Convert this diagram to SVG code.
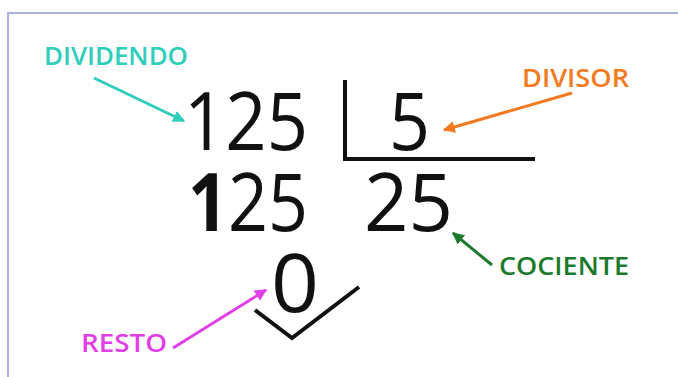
<svg xmlns="http://www.w3.org/2000/svg" width="678" height="377" viewBox="0 0 678 377">
<style>
.num{font-family:"Open Sans","Liberation Sans",sans-serif;font-size:80px;fill:#111;}
.lbl{font-family:"Open Sans","Liberation Sans",sans-serif;font-weight:600;font-size:25px;}
.bar{stroke:#111;stroke-width:4;fill:none;}
.arr{stroke-width:3;fill:none;}
</style>
<defs>
<marker id="mTeal" viewBox="0 0 10 10" refX="9" refY="5" markerWidth="4" markerHeight="4" orient="auto" markerUnits="strokeWidth"><path d="M0,0L10,5L0,10z" fill="#2fcdbb"/></marker>
<marker id="mOrange" viewBox="0 0 10 10" refX="9" refY="5" markerWidth="4" markerHeight="4" orient="auto" markerUnits="strokeWidth"><path d="M0,0L10,5L0,10z" fill="#f47a22"/></marker>
<marker id="mGreen" viewBox="0 0 10 10" refX="9" refY="5" markerWidth="4" markerHeight="4" orient="auto" markerUnits="strokeWidth"><path d="M0,0L10,5L0,10z" fill="#1d7a2c"/></marker>
<marker id="mMagenta" viewBox="0 0 10 10" refX="9" refY="5" markerWidth="4" markerHeight="4" orient="auto" markerUnits="strokeWidth"><path d="M0,0L10,5L0,10z" fill="#e040e6"/></marker>
</defs>
<rect x="0" y="0" width="678" height="377" fill="#fff"/>
<rect x="8" y="13" width="690" height="400" fill="none" stroke="#aab0e4" stroke-width="2"/>

<g id="division-bracket">
<path class="bar" d="M345,80V159H535"/>
</g>
<g id="dividend">
<text class="num" x="184" y="150" textLength="124" lengthAdjust="spacingAndGlyphs">125</text>
</g>
<g id="divisor">
<text class="num" x="389" y="150" textLength="41" lengthAdjust="spacingAndGlyphs">5</text>
</g>
<g id="partial-dividend">
<text class="num" x="188" y="231" textLength="120" lengthAdjust="spacingAndGlyphs"><tspan font-weight="bold">1</tspan>25</text>
</g>
<g id="quotient">
<text class="num" x="364" y="231" textLength="89" lengthAdjust="spacingAndGlyphs">25</text>
</g>
<g id="remainder">
<text class="num" x="271" y="312" textLength="48" lengthAdjust="spacingAndGlyphs">0</text>
<path class="bar" d="M255,310L292,338L359,287"/>
</g>

<g id="label-dividendo"><text class="lbl" x="44" y="65" fill="#2fcdbb" textLength="144" lengthAdjust="spacingAndGlyphs">DIVIDENDO</text></g>
<g id="label-divisor"><text class="lbl" x="522" y="87" fill="#f47a22" textLength="107" lengthAdjust="spacingAndGlyphs">DIVISOR</text></g>
<g id="label-cociente"><text class="lbl" x="499" y="275" fill="#1d7a2c" textLength="130" lengthAdjust="spacingAndGlyphs">COCIENTE</text></g>
<g id="label-resto"><text class="lbl" x="81" y="352" fill="#e040e6" textLength="86" lengthAdjust="spacingAndGlyphs">RESTO</text></g>

<g id="connectors">
<line class="arr" x1="94" y1="78" x2="184" y2="121" stroke="#2fcdbb" marker-end="url(#mTeal)"/>
<line class="arr" x1="572" y1="93" x2="444" y2="130" stroke="#f47a22" marker-end="url(#mOrange)"/>
<line class="arr" x1="492" y1="265" x2="453" y2="233" stroke="#1d7a2c" marker-end="url(#mGreen)"/>
<line class="arr" x1="173" y1="348" x2="266" y2="290" stroke="#e040e6" marker-end="url(#mMagenta)"/>
</g>
</svg>
